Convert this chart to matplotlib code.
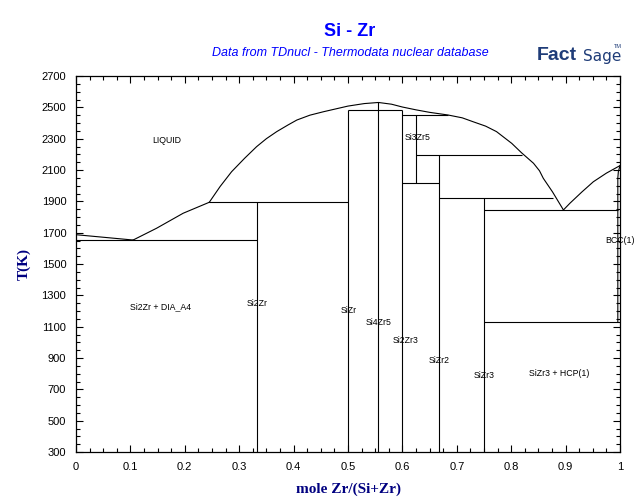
import matplotlib
matplotlib.use('Agg')
import matplotlib.pyplot as plt
import matplotlib.ticker as tck

# liquidus branches (x = mole Zr/(Si+Zr), T in K)
liq_si_x = [0.0, 0.105]
liq_si_T = [1687, 1653]
liq_si2zr_x = [0.105, 0.148, 0.197, 0.245]
liq_si2zr_T = [1653, 1728, 1824, 1894]
liq_mid_x = [0.245, 0.265, 0.286, 0.31, 0.332, 0.35, 0.369, 0.39, 0.406, 0.43, 0.455, 0.48,
             0.5, 0.53, 0.556, 0.58, 0.6, 0.625, 0.65, 0.684, 0.71, 0.73, 0.753, 0.773,
             0.801, 0.819, 0.841, 0.852, 0.859, 0.876, 0.896]
liq_mid_T = [1894, 1995, 2089, 2175, 2249, 2300, 2345, 2388, 2419, 2450, 2472, 2492,
             2508, 2524, 2531, 2520, 2502, 2484, 2468, 2451, 2433, 2408, 2380, 2345,
             2270, 2210, 2143, 2095, 2047, 1960, 1845]
liq_zr_x = [0.896, 0.908, 0.93, 0.951, 0.975, 1.0]
liq_zr_T = [1845, 1888, 1960, 2025, 2080, 2128]

# narrow BCC(1) field at the Zr side
bcc_x = [1.0, 0.997, 0.996, 0.996]
bcc_T = [2128, 2090, 2050, 1128]

# invariant lines: (x_start, x_end, T)
inv_x0 = [0.0, 0.245, 0.5, 0.6, 0.625, 0.6, 2 / 3, 0.75, 0.75]
inv_x1 = [1 / 3, 0.5, 0.6, 0.684, 0.819, 2 / 3, 0.876, 0.996, 1.0]
inv_T = [1653, 1894, 2480, 2451, 2196, 2015, 1919, 1845, 1128]

# compound lines: (x, T_low, T_high)
cmp_x = [1 / 3, 0.5, 5 / 9, 0.6, 0.625, 2 / 3, 0.75]
cmp_lo = [300, 300, 300, 300, 2015, 300, 300]
cmp_hi = [1894, 2480, 2531, 2480, 2451, 2196, 1919]

# phase labels
lab_text = ['LIQUID', 'Si2Zr + DIA_A4', 'Si2Zr', 'SiZr', 'Si4Zr5', 'Si2Zr3', 'SiZr2',
            'SiZr3', 'SiZr3 + HCP(1)', 'Si3Zr5', 'BCC(1)']
lab_x = [0.141, 0.099, 0.314, 0.487, 0.533, 0.582, 0.648, 0.731, 0.832, 0.605, 0.973]
lab_T = [2290, 1230, 1245, 1203, 1128, 1013, 886, 790, 803, 2305, 1653]

y_ticks = [300, 500, 700, 900, 1100, 1300, 1500, 1700, 1900, 2100, 2300, 2500, 2700]

fig = plt.figure(figsize=(6.4, 5.04), dpi=100)
ax = fig.add_axes([76 / 640, 1 - 452 / 504, 544 / 640, 376 / 504])

lw = 0.8
ax.plot(liq_si_x, liq_si_T, color='black', lw=lw)
ax.plot(liq_si2zr_x, liq_si2zr_T, color='black', lw=lw)
ax.plot(liq_mid_x, liq_mid_T, color='black', lw=lw)
ax.plot(liq_zr_x, liq_zr_T, color='black', lw=lw)
ax.plot(bcc_x, bcc_T, color='black', lw=lw)
ax.hlines(inv_T, inv_x0, inv_x1, color='black', lw=lw)
ax.vlines(cmp_x, cmp_lo, cmp_hi, color='black', lw=lw)

for t, x, y in zip(lab_text, lab_x, lab_T):
    ax.text(x, y, t, fontsize=6.3, family='Liberation Sans', ha='left', va='center')

ax.set_xlim(0, 1)
ax.set_ylim(300, 2700)
ax.xaxis.set_major_locator(tck.MultipleLocator(0.1))
ax.xaxis.set_minor_locator(tck.MultipleLocator(0.025))
ax.yaxis.set_major_locator(tck.FixedLocator(y_ticks))
ax.yaxis.set_minor_locator(tck.MultipleLocator(50))
ax.xaxis.set_major_formatter(tck.FuncFormatter(lambda v, p: '%g' % round(v, 2)))
ax.tick_params(which='both', direction='in', top=True, right=True, width=0.8,
               labelsize=8, pad=7)
ax.tick_params(which='major', length=5)
ax.tick_params(which='minor', length=3)
for lbl in ax.get_xticklabels() + ax.get_yticklabels():
    lbl.set_family('Liberation Sans')
for s in ax.spines.values():
    s.set_linewidth(0.9)

navy = '#000080'
ax.set_xlabel('mole Zr/(Si+Zr)', family='Liberation Serif', fontweight='bold',
              fontsize=11, color=navy, labelpad=8)
ax.set_ylabel('T(K)', family='Liberation Serif', fontweight='bold',
              fontsize=11, color=navy, labelpad=8)

fig.text(350 / 640, 1 - 31 / 504, 'Si - Zr', color='#0000ff', fontsize=13,
         fontweight='bold', family='Liberation Sans', ha='center', va='center')
fig.text(350 / 640, 1 - 53 / 504, 'Data from TDnucl - Thermodata nuclear database',
         color='#0000ff', fontsize=9, style='italic', family='Liberation Sans',
         ha='center', va='center')

# FactSage logo (text approximation)
logo = '#1f3c78'
fig.text(537 / 640, 1 - 56 / 504, 'Fact', color=logo, fontsize=14, fontweight='heavy',
         family='Liberation Sans', ha='left', va='center')
fig.text(583 / 640, 1 - 57 / 504, 'Sage', color=logo, fontsize=11,
         family='Liberation Sans Narrow', ha='left', va='center')
fig.text(614 / 640, 1 - 47 / 504, 'TM', color=logo, fontsize=4,
         family='Liberation Sans', ha='left', va='center')

fig.savefig('out.png', dpi=100)
